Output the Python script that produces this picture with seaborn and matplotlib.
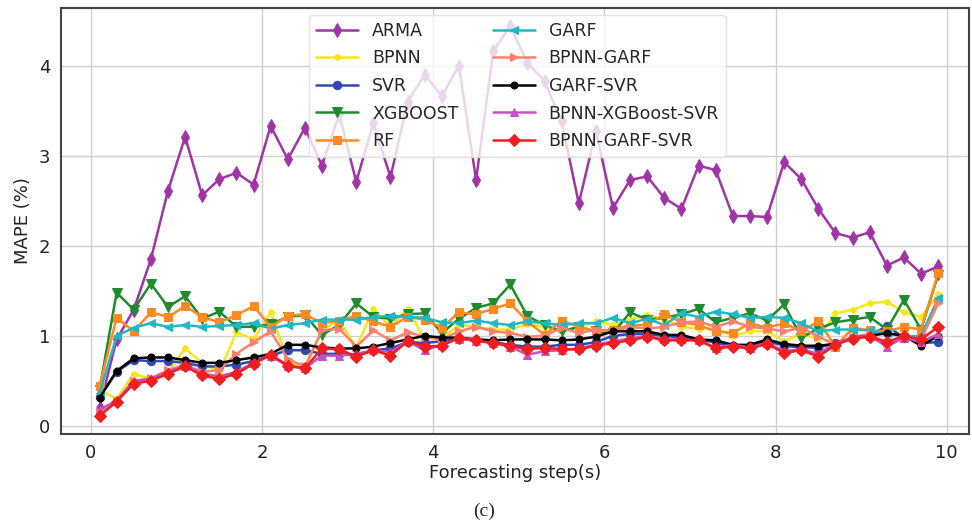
import matplotlib
matplotlib.use("Agg")
import matplotlib.pyplot as plt
import seaborn as sns
import pandas as pd

steps = [0.1, 0.3, 0.5, 0.7, 0.9, 1.1, 1.3, 1.5, 1.7, 1.9,
         2.1, 2.3, 2.5, 2.7, 2.9, 3.1, 3.3, 3.5, 3.7, 3.9,
         4.1, 4.3, 4.5, 4.7, 4.9, 5.1, 5.3, 5.5, 5.7, 5.9,
         6.1, 6.3, 6.5, 6.7, 6.9, 7.1, 7.3, 7.5, 7.7, 7.9,
         8.1, 8.3, 8.5, 8.7, 8.9, 9.1, 9.3, 9.5, 9.7, 9.9]

arma = [0.2, 0.96, 1.29, 1.85, 2.61, 3.21, 2.56, 2.74, 2.81, 2.68,
        3.33, 2.96, 3.31, 2.89, 3.46, 2.71, 3.36, 2.76, 3.6, 3.9,
        3.66, 4.0, 2.73, 4.16, 4.44, 4.03, 3.83, 3.38, 2.47, 3.27,
        2.42, 2.73, 2.77, 2.53, 2.41, 2.89, 2.84, 2.33, 2.33, 2.32,
        2.93, 2.74, 2.41, 2.14, 2.09, 2.15, 1.78, 1.87, 1.69, 1.77]

bpnn = [0.4, 0.3, 0.58, 0.52, 0.6, 0.86, 0.7, 0.6, 1.04, 0.96,
        1.26, 0.72, 0.62, 1.07, 1.17, 0.87, 1.3, 1.1, 1.3, 0.96,
        0.97, 1.12, 1.1, 1.07, 1.07, 1.13, 1.1, 1.05, 1.1, 1.16,
        1.12, 1.18, 1.23, 1.18, 1.1, 1.08, 1.08, 1.0, 1.05, 1.05,
        0.94, 1.02, 0.97, 1.25, 1.29, 1.36, 1.38, 1.26, 1.21, 1.46]

svr = [0.32, 0.6, 0.73, 0.72, 0.72, 0.7, 0.66, 0.66, 0.68, 0.72,
       0.78, 0.84, 0.84, 0.8, 0.8, 0.78, 0.84, 0.86, 0.93, 0.92,
       0.94, 0.97, 0.95, 0.93, 0.9, 0.88, 0.88, 0.9, 0.9, 0.93,
       1.0, 1.02, 1.02, 1.0, 0.98, 0.95, 0.93, 0.88, 0.88, 0.94,
       0.89, 0.87, 0.87, 0.92, 0.97, 1.0, 1.11, 0.98, 0.92, 0.93]

xgboost = [0.4, 1.48, 1.29, 1.58, 1.32, 1.44, 1.19, 1.27, 1.1, 1.1,
           1.13, 1.21, 1.23, 1.01, 1.12, 1.36, 1.21, 1.19, 1.24, 1.25,
           1.03, 1.19, 1.31, 1.36, 1.57, 1.22, 1.12, 1.05, 1.1, 1.05,
           1.03, 1.26, 1.18, 1.2, 1.24, 1.3, 1.15, 1.2, 1.25, 1.17,
           1.35, 0.98, 1.08, 1.15, 1.18, 1.21, 1.07, 1.4, 1.07, 1.68]

rf = [0.44, 1.2, 1.05, 1.26, 1.21, 1.33, 1.21, 1.15, 1.23, 1.33,
      1.1, 1.22, 1.24, 1.14, 1.17, 1.22, 1.16, 1.1, 1.21, 1.18,
      1.09, 1.26, 1.24, 1.3, 1.36, 1.16, 1.01, 1.17, 1.1, 1.05,
      1.07, 1.12, 1.12, 1.24, 1.15, 1.12, 1.05, 1.03, 1.14, 1.09,
      1.14, 1.05, 1.16, 0.88, 1.09, 1.06, 1.05, 1.1, 1.07, 1.7]

garf = [0.36, 1.0, 1.09, 1.14, 1.1, 1.12, 1.1, 1.11, 1.12, 1.14,
        1.08, 1.12, 1.14, 1.18, 1.18, 1.18, 1.21, 1.22, 1.21, 1.2,
        1.15, 1.14, 1.17, 1.14, 1.12, 1.16, 1.14, 1.12, 1.14, 1.14,
        1.2, 1.14, 1.19, 1.12, 1.25, 1.21, 1.27, 1.24, 1.2, 1.21,
        1.2, 1.14, 1.05, 1.07, 1.07, 1.06, 1.03, 0.99, 1.0, 1.42]

bpnn_garf = [0.15, 0.28, 0.5, 0.53, 0.62, 0.68, 0.6, 0.62, 0.8, 0.93,
             1.05, 0.74, 0.66, 1.06, 1.08, 0.88, 1.06, 0.95, 1.04, 0.99,
             0.96, 1.05, 1.1, 1.05, 1.03, 0.99, 1.0, 1.09, 1.03, 1.07,
             1.05, 1.1, 1.08, 1.1, 1.15, 1.16, 1.1, 1.16, 1.1, 1.08,
             1.05, 1.09, 0.99, 0.9, 0.99, 1.02, 0.92, 0.98, 0.96, 1.36]

garf_svr = [0.31, 0.61, 0.75, 0.76, 0.76, 0.73, 0.7, 0.7, 0.73, 0.76,
            0.8, 0.9, 0.9, 0.87, 0.86, 0.86, 0.88, 0.92, 0.96, 1.0,
            0.98, 0.98, 0.96, 0.95, 0.96, 0.96, 0.96, 0.95, 0.96, 0.99,
            1.05, 1.05, 1.05, 1.01, 1.01, 0.96, 0.95, 0.9, 0.9, 0.96,
            0.91, 0.89, 0.89, 0.91, 0.98, 1.0, 1.03, 1.0, 0.89, 1.0]

bpnn_xgb_svr = [0.18, 0.28, 0.5, 0.52, 0.6, 0.67, 0.58, 0.55, 0.6, 0.7,
                0.78, 0.66, 0.64, 0.78, 0.78, 0.8, 0.84, 0.82, 0.94, 0.84,
                0.9, 0.97, 0.94, 0.92, 0.88, 0.79, 0.83, 0.84, 0.86, 0.9,
                0.94, 0.97, 1.0, 0.96, 0.96, 0.95, 0.87, 0.9, 0.87, 0.92,
                0.83, 0.85, 0.8, 0.92, 0.98, 1.0, 0.88, 0.98, 0.93, 1.02]

bpnn_garf_svr = [0.11, 0.27, 0.47, 0.5, 0.58, 0.66, 0.56, 0.52, 0.58, 0.69,
                 0.79, 0.67, 0.64, 0.86, 0.85, 0.77, 0.84, 0.78, 0.94, 0.88,
                 0.89, 0.98, 0.95, 0.92, 0.89, 0.85, 0.87, 0.85, 0.85, 0.89,
                 0.92, 0.95, 0.99, 0.95, 0.95, 0.95, 0.86, 0.88, 0.86, 0.91,
                 0.81, 0.84, 0.77, 0.9, 0.97, 0.99, 0.93, 1.0, 0.96, 1.1]

labels = ["ARMA", "BPNN", "SVR", "XGBOOST", "RF", "GARF", "BPNN-GARF",
          "GARF-SVR", "BPNN-XGBoost-SVR", "BPNN-GARF-SVR"]
series = [arma, bpnn, svr, xgboost, rf, garf, bpnn_garf, garf_svr,
          bpnn_xgb_svr, bpnn_garf_svr]
colors = ["#a034a6", "#f5e61a", "#3048b0", "#1f8a2e", "#ff8a1f", "#1fb8c4",
          "#fa8070", "#000000", "#c650c6", "#f01e1e"]
markers = ["d", ".", "o", "v", "s", "<", ">", ".", "^", "D"]
msizes = [7, 8, 6, 7, 6, 6, 6, 10, 6, 6]

sns.set_theme(style="whitegrid")
plt.rcParams['font.family'] = ['DejaVu Sans']

fig = plt.figure(figsize=(9.72, 5.25), dpi=100)
ax = fig.add_axes([61/972, 1-434/525, (969-61)/972, (434-8)/525])

for lab, vals, c, m, ms in zip(labels, series, colors, markers, msizes):
    df = pd.DataFrame({"step": steps, "mape": vals})
    sns.lineplot(data=df, x="step", y="mape", ax=ax, color=c, marker=m,
                 markersize=ms, markeredgecolor=c, linewidth=1.8, label=lab)

ax.set_xlim(-0.35, 10.26)
ax.set_ylim(-0.09, 4.64)
ax.set_xticks([0, 2, 4, 6, 8, 10])
ax.set_yticks([0, 1, 2, 3, 4])
ax.tick_params(labelsize=13, colors="#222222", length=4)
ax.grid(True, color="#cfcfcf", linewidth=1.0)
for s in ax.spines.values():
    s.set_color("#444444")
    s.set_linewidth(1.5)
ax.set_xlabel("Forecasting step(s)", fontsize=13, color="#222222", labelpad=1)
ax.set_ylabel("MAPE (%)", fontsize=13, color="#222222", labelpad=5)

leg = ax.legend(loc="upper center", ncol=2, fontsize=12.5, frameon=True,
                labelspacing=0.55, columnspacing=2.0, handlelength=2.4,
                bbox_to_anchor=(0.503, 1.0), borderaxespad=0.4)
leg.get_frame().set_alpha(0.8)
leg.get_frame().set_edgecolor("#dddddd")

fig.text(0.498, 0.026, "(c)", ha="center", va="center", fontsize=14,
         family="Liberation Serif")

fig.savefig("out.png", dpi=100)
